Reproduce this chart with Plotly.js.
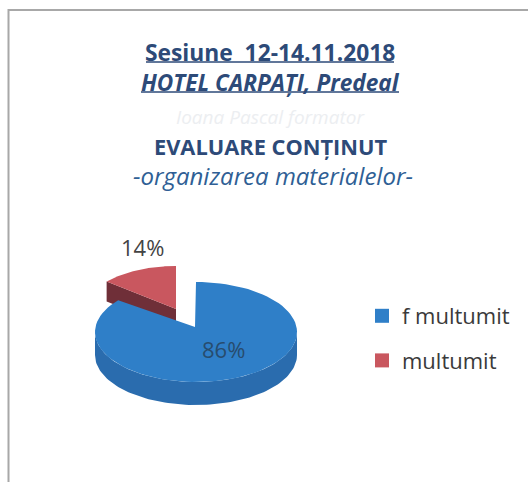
<!DOCTYPE html>
<html><head><meta charset="utf-8">
<script src="https://cdn.plot.ly/plotly-3.0.1.min.js"></script>
<style>html,body{margin:0;padding:0;background:#fff}</style></head>
<body><div id="c" style="width:528px;height:482px"></div>
<script>
const categories = ["f multumit", "multumit"];
const shares = [86, 14];
const sliceColors = ["#2f7fc8", "#c9575f"];
const wallColors = ["#2a6cae", "#6f2f38"];
const labelColors = ["#274c6e", "#444444"];
const titleLines = ["Sesiune\u00a0\u00a012-14.11.2018", "HOTEL CARPAȚI, Predeal", "Ioana Pascal formator", "EVALUARE CONȚINUT", "-organizarea materialelor-"];

const TOTAL = shares.reduce((a, b) => a + b, 0);
const pie = [
  {ax: 195, ay: 327, cx: 196, cy: 332, rx: 101, ry: 50, depth: 23},
  {ax: 176, ay: 309, cx: 176, cy: 309, rx: 90, ry: 43, depth: 20}
];
function arc(g, from, to, dy) {
  const pts = [], n = 90;
  for (let i = 0; i <= n; i++) {
    const t = (from + (to - from) * i / n) * Math.PI * 2;
    pts.push([g.cx + g.rx * Math.sin(t), g.cy - g.ry * Math.cos(t) + dy]);
  }
  return pts;
}
function poly(pts, color, name) {
  return {type: "scatter", mode: "lines", x: pts.map(p => p[0]), y: pts.map(p => p[1]),
    fill: "toself", fillcolor: color, line: {width: 0, color: color}, hoverinfo: "skip", showlegend: false, name: name};
}
const traces = [];
const starts = [];
let acc = 0;
shares.forEach(v => { starts.push(acc / TOTAL); acc += v; });
[1, 0].forEach(i => {
  const g = pie[i], from = starts[i], to = from + shares[i] / TOTAL;
  const top = arc(g, from, to, 0);
  const apex = [g.ax, g.ay];
  if (i === 1) {
    traces.push(poly([top[0], apex, [g.ax, g.ay + g.depth], [top[0][0], top[0][1] + g.depth]], wallColors[i], categories[i]));
  } else {
    const rim = arc(g, 0.25, 0.75, 0);
    const low = arc(g, 0.25, 0.75, g.depth).reverse();
    traces.push(poly(rim.concat(low), wallColors[i], categories[i]));
  }
  traces.push(poly([apex].concat(top), sliceColors[i], categories[i]));
});
categories.forEach((c, i) => traces.push({type: "scatter", mode: "markers", x: [null], y: [null], name: c,
  legendgroup: c, marker: {symbol: "square", size: 14, color: sliceColors[i]}, hoverinfo: "skip"}));

const tBlue = "#2d4a78";
const ann = (y, text, size, color, x) => ({xref: "x", yref: "y", x: x || 270, y, text, showarrow: false,
  font: {family: "'Open Sans', sans-serif", size, color}, xanchor: "center", yanchor: "middle"});
const annotations = [
  ann(52, "<b>" + titleLines[0] + "</b>", 22.8, tBlue),
  ann(82, "<b><i>" + titleLines[1] + "</i></b>", 22.6, tBlue),
  ann(117, "<i>" + titleLines[2] + "</i>", 19, "#eceef1"),
  ann(146, "<b>" + titleLines[3] + "</b>", 21.8, tBlue),
  ann(175, "<i>" + titleLines[4] + "</i>", 24, "#2f5f95", 273),
  ann(247, shares[1] + "%", 22, labelColors[1], 142),
  ann(349, shares[0] + "%", 22, labelColors[0], 223)
];
const underline = (x0, x1, y) => ({type: "line", xref: "x", yref: "y", x0, x1, y0: y, y1: y, line: {color: tBlue, width: 1.5}});
Plotly.newPlot("c", traces, {
  width: 528, height: 482, margin: {l: 0, r: 0, t: 0, b: 0},
  paper_bgcolor: "#ffffff", plot_bgcolor: "#ffffff",
  xaxis: {range: [0, 528], visible: false, fixedrange: true},
  yaxis: {range: [482, 0], visible: false, fixedrange: true},
  annotations,
  shapes: [
    {type: "rect", xref: "x", yref: "y", x0: 8.5, x1: 545, y0: 10, y1: 500, fillcolor: "#ffffff", layer: "below", line: {color: "#a8a8a8", width: 2}},
    underline(146, 394, 62), underline(141, 399, 92)
  ],
  showlegend: true,
  legend: {x: 362 / 528, y: 1 - 295 / 482, xanchor: "left", yanchor: "top", bgcolor: "rgba(0,0,0,0)", itemwidth: 30, tracegroupgap: 13,
    traceorder: "grouped", font: {family: "'Open Sans', sans-serif", size: 22, color: "#3a3a3a"}}
}, {displayModeBar: false, staticPlot: true});
</script></body></html>
